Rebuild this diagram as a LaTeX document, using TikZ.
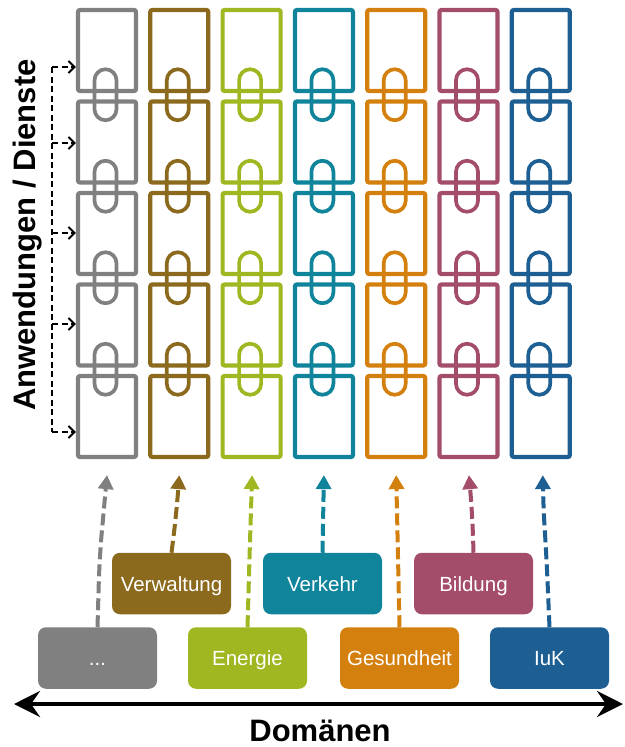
\documentclass[tikz,border=0pt]{standalone}
\usepackage{fontspec}
\setmainfont{Liberation Sans}
\usetikzlibrary{arrows.meta,calc}

\definecolor{cgray}{HTML}{808080}
\definecolor{cbrown}{HTML}{8B6A1E}
\definecolor{cgreen}{HTML}{A0B721}
\definecolor{cteal}{HTML}{10849A}
\definecolor{corange}{HTML}{D4800F}
\definecolor{cpink}{HTML}{A44D6A}
\definecolor{cblue}{HTML}{1D5E93}

\tikzset{
  gridbox/.style={rectangle, line width=4.2pt, rounded corners=2pt, minimum width=58pt,
    minimum height=81pt, inner sep=0pt, fill=none},
  knob/.style={line width=3.7pt, rounded corners=11pt},
  dombox/.style={rectangle, rounded corners=8pt, minimum width=119pt, minimum height=61.5pt,
    inner sep=0pt, outer sep=0pt, text=white, text height=15pt, text depth=0pt,
    font=\fontsize{20.5}{24}\selectfont},
  domarrow/.style={line width=4pt, dash pattern=on 12pt off 5pt, rounded corners=25pt,
    -{Triangle[length=14pt,width=15pt]}},
  brkline/.style={line width=2pt, dash pattern=on 6pt off 3.5pt},
  brkarrow/.style={brkline, -{Straight Barb[length=6pt,width=12pt]}},
  axis/.style={line width=4pt, {Stealth[length=26pt,width=26pt,inset=9pt]}-{Stealth[length=26pt,width=26pt,inset=9pt]}},
  bigtitle/.style={font=\fontsize{31}{36}\selectfont\bfseries, inner sep=0pt, outer sep=0pt},
}

\begin{document}
\begin{tikzpicture}[x=1pt, y=-1pt]
\useasboundingbox (0,0) rectangle (624,747);

% service grid: one column per domain, five stacked building blocks each
\foreach \col [count=\i from 0] in {cgray,cbrown,cgreen,cteal,corange,cpink,cblue} {
  \foreach \j in {1,...,5} {
    \node[gridbox, draw=\col] (c\i-\j) at ({107+72.3*\i}, {50.5+91.5*(\j-1)}) {};
  }
  % couplings linking vertically adjacent blocks
  \foreach \j in {1,...,4} {
    \draw[knob, draw=\col] ({107+72.3*\i-1.5-11}, {50.5+91.5*(\j-1)+45.75-1.5-25.5})
      rectangle ++(22,51);
  }
}

% bracket pointing at the service rows
\coordinate (b1) at (52,67);
\coordinate (b2) at (52,143);
\coordinate (b3) at (52,233);
\coordinate (b4) at (52,324);
\coordinate (b5) at (52,432);
\draw[brkline] (b1) -- (b5);
\foreach \k in {1,...,5} {
  \draw[brkarrow] (b\k) -- (b\k -| c0-1.west);
}

\node[bigtitle, rotate=90, anchor=base] (svc) at (35,235) {Anwendungen / Dienste};

% domains
\node[dombox, fill=cgray]   (dots)    at (97.5,658)  {...};
\node[dombox, fill=cbrown]  (verw)    at (171.5,583.5) {Verwaltung};
\node[dombox, fill=cgreen]  (energie) at (247.5,658)  {Energie};
\node[dombox, fill=cteal]   (verkehr) at (322.5,583.5) {Verkehr};
\node[dombox, fill=corange] (gesund)  at (399.5,658)  {Gesundheit};
\node[dombox, fill=cpink]   (bildung) at (473.5,583.5) {Bildung};
\node[dombox, fill=cblue]   (iuk)     at (549.5,658)  {IuK};

% arrow targets below each column
\coordinate (t0) at ($(c0-5.south)+(0,16)$);
\coordinate (t1) at ($(c1-5.south)+(0,16)$);
\coordinate (t2) at ($(c2-5.south)+(0.5,16)$);
\coordinate (t3) at ($(c3-5.south)+(0,16)$);
\coordinate (t4) at ($(c4-5.south)+(0,16)$);
\coordinate (t5) at ($(c5-5.south)+(0.5,16)$);
\coordinate (t6) at ($(c6-5.south)+(2,16)$);

\draw[domarrow, draw=cgray,   cgray]   (dots.north)    -- ++(2,-70) -- (t0);
\draw[domarrow, draw=cbrown,  cbrown]  (verw.north)    -- ++(5,-40) -- (t1);
\draw[domarrow, draw=cgreen,  cgreen]  (energie.north) -- ++(2,-70) -- (t2);
\draw[domarrow, draw=cteal,   cteal]   (verkehr.north) -- (t3);
\draw[domarrow, draw=corange, corange] (gesund.north)  -- ++(-1.5,-70) -- (t4);
\draw[domarrow, draw=cpink,   cpink]   (bildung.north) -- ++(-1,-36) -- (t5);
\draw[domarrow, draw=cblue,   cblue]   (iuk.north)     -- ++(-3,-70) -- ++(-3.5,-55) -- (t6);

% domain axis
\coordinate (axl) at (14,704);
\coordinate (axr) at (623,704);
\draw[axis] (axl) -- (axr);
\node[bigtitle, anchor=base] (axlabel) at (320,741.5) {Domänen};
\end{tikzpicture}
\end{document}
